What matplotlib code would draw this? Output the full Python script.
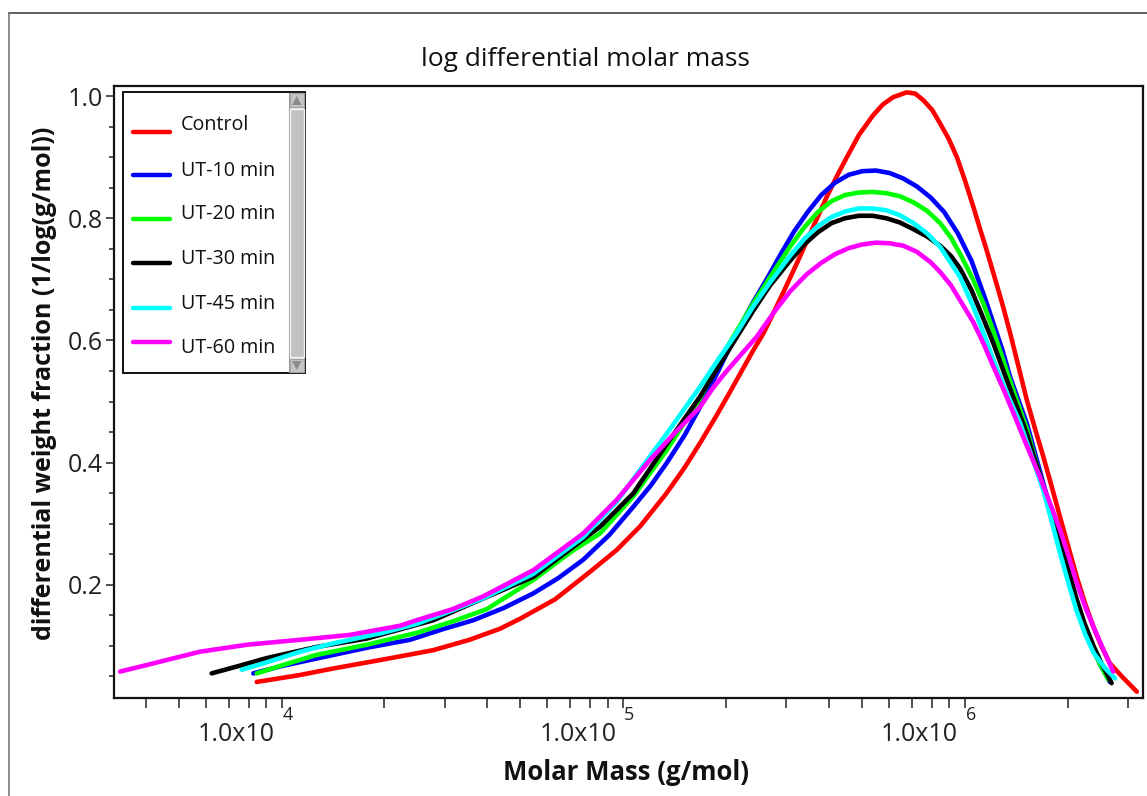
import matplotlib
matplotlib.use("Agg")
import matplotlib.pyplot as plt
from matplotlib.ticker import LogLocator, MultipleLocator, NullFormatter, FixedLocator, FormatStrFormatter
from matplotlib.patches import Rectangle, Polygon
from matplotlib.lines import Line2D
import matplotlib.transforms as mtransforms

W, H, DPI = 1147, 796, 100
plt.rcParams['font.family'] = ['Open Sans', 'DejaVu Sans']

series_names = ['Control', 'UT-10 min', 'UT-20 min', 'UT-30 min', 'UT-45 min', 'UT-60 min']
series_colors = ['#ff0000', '#0000ff', '#00ff00', '#000000', '#00ffff', '#ff00ff']

# log10(molar mass) and differential weight fraction
control_logM = [3.927, 4.05, 4.151, 4.30, 4.444, 4.55, 4.639, 4.70, 4.80, 4.90, 4.981, 5.05, 5.127,
                5.18, 5.225, 5.27, 5.31, 5.35, 5.38, 5.409, 5.44, 5.47, 5.50, 5.518, 5.55, 5.596, 5.625,
                5.654, 5.69, 5.731, 5.76, 5.79, 5.83, 5.855, 5.879, 5.905, 5.928, 5.953, 5.977, 6.00,
                6.025, 6.045, 6.064, 6.085, 6.11, 6.133, 6.158, 6.182, 6.206, 6.23, 6.255, 6.279, 6.304,
                6.328, 6.352, 6.377, 6.40, 6.425, 6.46, 6.504]
control_w = [0.041, 0.052, 0.063, 0.078, 0.093, 0.110, 0.128, 0.145, 0.176, 0.220, 0.257, 0.296, 0.350,
             0.392, 0.432, 0.474, 0.513, 0.553, 0.583, 0.610, 0.645, 0.680, 0.716, 0.738, 0.778, 0.835, 0.868,
             0.899, 0.936, 0.968, 0.986, 0.998, 1.006, 1.004, 0.993, 0.977, 0.955, 0.930, 0.900, 0.863,
             0.819, 0.782, 0.748, 0.708, 0.660, 0.612, 0.556, 0.502, 0.455, 0.410, 0.360, 0.311, 0.261,
             0.213, 0.170, 0.131, 0.100, 0.0715, 0.050, 0.025]

ut10_logM = [3.917, 4.00, 4.15, 4.25, 4.376, 4.47, 4.561, 4.65, 4.737, 4.81, 4.883, 4.96, 5.03, 5.08,
             5.127, 5.18, 5.225, 5.28, 5.332, 5.38, 5.42, 5.46, 5.50, 5.54, 5.58, 5.62, 5.66, 5.70, 5.74,
             5.78, 5.82, 5.86, 5.90, 5.94, 5.98, 6.02, 6.06, 6.084, 6.11, 6.133, 6.16, 6.182, 6.205, 6.23,
             6.255, 6.279, 6.305, 6.328, 6.35, 6.377, 6.40, 6.425]
ut10_w = [0.055, 0.067, 0.085, 0.097, 0.110, 0.127, 0.142, 0.162, 0.186, 0.211, 0.241, 0.282, 0.328, 0.362,
          0.399, 0.445, 0.491, 0.552, 0.612, 0.662, 0.700, 0.740, 0.778, 0.810, 0.838, 0.858, 0.871, 0.877, 0.878,
          0.874, 0.865, 0.852, 0.834, 0.810, 0.775, 0.730, 0.668, 0.628, 0.585, 0.540, 0.498, 0.464, 0.417, 0.366,
          0.317, 0.268, 0.215, 0.168, 0.130, 0.093, 0.066, 0.041]

ut20_logM = [3.927, 4.00, 4.10, 4.25, 4.40, 4.50, 4.60, 4.737, 4.85, 4.932, 5.03, 5.127, 5.225, 5.30,
             5.38, 5.44, 5.488, 5.53, 5.57, 5.61, 5.65, 5.69, 5.73, 5.77, 5.81, 5.85, 5.89, 5.928, 5.96,
             5.99, 6.025, 6.055, 6.084, 6.11, 6.13, 6.155, 6.182, 6.205, 6.23, 6.255, 6.279, 6.305, 6.328,
             6.352, 6.377, 6.40, 6.42]
ut20_w = [0.055, 0.068, 0.085, 0.102, 0.122, 0.140, 0.160, 0.208, 0.255, 0.284, 0.345, 0.420, 0.505, 0.585,
          0.660, 0.712, 0.753, 0.785, 0.810, 0.828, 0.838, 0.842, 0.843, 0.841, 0.836, 0.826, 0.812, 0.792,
          0.768, 0.738, 0.699, 0.660, 0.615, 0.572, 0.538, 0.498, 0.455, 0.408, 0.360, 0.312, 0.265, 0.212,
          0.168, 0.128, 0.092, 0.066, 0.045]

ut30_logM = [3.795, 3.88, 3.956, 4.10, 4.249, 4.444, 4.60, 4.737, 4.932, 5.03, 5.127, 5.225, 5.28, 5.332,
             5.38, 5.43, 5.488, 5.53, 5.57, 5.61, 5.65, 5.69, 5.73, 5.77, 5.81, 5.85, 5.89, 5.928, 5.96,
             5.986, 6.02, 6.05, 6.084, 6.12, 6.155, 6.182, 6.205, 6.23, 6.255, 6.279, 6.305, 6.328, 6.352,
             6.377, 6.40, 6.43]
ut30_w = [0.055, 0.068, 0.080, 0.098, 0.112, 0.142, 0.180, 0.213, 0.295, 0.350, 0.430, 0.508, 0.558, 0.605,
          0.648, 0.690, 0.730, 0.757, 0.777, 0.792, 0.800, 0.804, 0.804, 0.800, 0.793, 0.782, 0.770, 0.755,
          0.738, 0.718, 0.682, 0.642, 0.595, 0.540, 0.488, 0.447, 0.405, 0.362, 0.318, 0.273, 0.222, 0.176,
          0.135, 0.100, 0.072, 0.039]

ut45_logM = [3.883, 3.95, 4.054, 4.15, 4.30, 4.395, 4.50, 4.59, 4.737, 4.883, 4.981, 5.049, 5.127, 5.225,
             5.28, 5.332, 5.38, 5.43, 5.488, 5.53, 5.57, 5.61, 5.65, 5.69, 5.73, 5.77, 5.81, 5.85, 5.89,
             5.928, 5.96, 5.986, 6.025, 6.055, 6.084, 6.12, 6.162, 6.195, 6.23, 6.255, 6.279, 6.305, 6.328,
             6.352, 6.377, 6.41, 6.44]
ut45_w = [0.061, 0.072, 0.0905, 0.104, 0.122, 0.136, 0.158, 0.178, 0.218, 0.278, 0.336, 0.388, 0.447, 0.524,
          0.570, 0.612, 0.655, 0.695, 0.738, 0.766, 0.787, 0.802, 0.811, 0.816, 0.816, 0.813, 0.805, 0.792,
          0.775, 0.753, 0.726, 0.704, 0.655, 0.612, 0.568, 0.518, 0.465, 0.412, 0.355, 0.303, 0.252, 0.200,
          0.157, 0.120, 0.089, 0.064, 0.047]

ut60_logM = [3.527, 3.60, 3.70, 3.761, 3.90, 4.054, 4.20, 4.347, 4.395, 4.50, 4.59, 4.737, 4.883, 4.981,
             5.078, 5.15, 5.225, 5.26, 5.30, 5.35, 5.391, 5.44, 5.49, 5.537, 5.58, 5.62, 5.66, 5.70, 5.74,
             5.78, 5.82, 5.86, 5.90, 5.928, 5.96, 5.986, 6.025, 6.055, 6.084, 6.115, 6.142, 6.18, 6.22,
             6.25, 6.279, 6.305, 6.328, 6.352, 6.377, 6.405, 6.435]
ut60_w = [0.058, 0.068, 0.082, 0.0905, 0.102, 0.110, 0.118, 0.133, 0.142, 0.160, 0.181, 0.224, 0.284, 0.339,
          0.404, 0.448, 0.491, 0.520, 0.548, 0.580, 0.606, 0.645, 0.681, 0.708, 0.727, 0.741, 0.751, 0.757,
          0.760, 0.759, 0.755, 0.745, 0.728, 0.712, 0.690, 0.666, 0.630, 0.595, 0.557, 0.518, 0.482, 0.430,
          0.377, 0.333, 0.290, 0.245, 0.203, 0.165, 0.131, 0.095, 0.058]

series_logM = [control_logM, ut10_logM, ut20_logM, ut30_logM, ut45_logM, ut60_logM]
series_w = [control_w, ut10_w, ut20_w, ut30_w, ut45_w, ut60_w]

x_decades = [4, 5, 6]
y_major = [0.2, 0.4, 0.6, 0.8, 1.0]

fig = plt.figure(figsize=(W / DPI, H / DPI), dpi=DPI)


def fx(px):
    return px / W


def fy(py):
    return 1 - py / H


# outer frame
fig.add_artist(Line2D([fx(9), 1.0], [fy(13), fy(13)], color='#444444', lw=1.2))
fig.add_artist(Line2D([fx(9), fx(9)], [fy(13), 0.0], color='#777777', lw=1.2))

ax = fig.add_axes([fx(114), fy(698), fx(1143) - fx(114), fy(86) - fy(698)])

for lm, w, c in zip(series_logM, series_w, series_colors):
    ax.plot([10 ** v for v in lm], w, color=c, lw=3.3, solid_capstyle='round', solid_joinstyle='round')

ax.set_xscale('log')
ax.set_xlim(10 ** 3.509, 10 ** 6.522)
ax.set_ylim(0.0147, 1.0164)

ax.xaxis.set_major_locator(FixedLocator([10.0 ** e for e in x_decades]))
ax.xaxis.set_minor_locator(LogLocator(base=10, subs=[2, 3, 4, 5, 6, 7, 8, 9], numticks=20))
ax.xaxis.set_major_formatter(NullFormatter())
ax.xaxis.set_minor_formatter(NullFormatter())
ax.tick_params(axis='x', which='both', direction='out', length=7.2, width=1.1, color='#222222')

ax.yaxis.set_major_locator(FixedLocator(y_major))
ax.yaxis.set_minor_locator(MultipleLocator(0.05))
ax.yaxis.set_major_formatter(FormatStrFormatter('%.1f'))
ax.tick_params(axis='y', which='major', direction='out', length=6, width=1.1, color='#222222',
               labelsize=18, labelcolor='#222222', pad=2)
ax.tick_params(axis='y', which='minor', direction='out', length=3.6, width=1.1, color='#222222')

for s in ax.spines.values():
    s.set_linewidth(1.6)
    s.set_color('#111111')

# x tick labels "1.0x10" with superscript exponent
for e in x_decades:
    t1 = mtransforms.offset_copy(ax.get_xaxis_transform(), fig=fig, x=-7, y=-43, units='dots')
    ax.text(10.0 ** e, 0, '1.0x10', transform=t1, ha='right', va='baseline', fontsize=18, color='#222222')
    t2 = mtransforms.offset_copy(ax.get_xaxis_transform(), fig=fig, x=1, y=-22, units='dots')
    ax.text(10.0 ** e, 0, str(e), transform=t2, ha='left', va='baseline', fontsize=13, color='#222222')

fig.text(fx(585), fy(66), 'log differential molar mass', ha='center', va='baseline', fontsize=19, color='#111111')
fig.text(fx(626), fy(780), 'Molar Mass (g/mol)', ha='center', va='baseline', fontsize=18.5,
         fontweight='bold', color='#111111')
fig.text(fx(45), fy(383.5), 'differential weight fraction (1/log(g/mol))', ha='center', va='center',
         rotation=90, fontsize=18, fontweight='bold', color='#111111')


# legend box with scroll bar
def frect(x0, y0, x1, y1, **kw):
    fig.add_artist(Rectangle((fx(x0), fy(y1)), fx(x1) - fx(x0), fy(y0) - fy(y1), **kw))


frect(123.3, 91.7, 305, 373, facecolor='white', edgecolor='#111111', lw=1.4, zorder=5)
frect(289, 93, 304, 372, facecolor='#e6e6e6', edgecolor='#9a9a9a', lw=0.8, zorder=6)
frect(290, 93.5, 303.5, 107, facecolor='#c4c4c4', edgecolor='#a0a0a0', lw=0.8, zorder=7)
frect(290, 109, 303.5, 357, facecolor='#c2c2c2', edgecolor='#f2f2f2', lw=1.0, zorder=7)
frect(290, 359, 303.5, 372, facecolor='#c4c4c4', edgecolor='#a0a0a0', lw=0.8, zorder=7)
fig.add_artist(Polygon([(fx(292), fy(105)), (fx(301.5), fy(105)), (fx(296.75), fy(96))], closed=True,
                       facecolor='#8c8c8c', edgecolor='none', zorder=8))
fig.add_artist(Polygon([(fx(292), fy(361)), (fx(301.5), fy(361)), (fx(296.75), fy(370))], closed=True,
                       facecolor='#8c8c8c', edgecolor='none', zorder=8))

legend_line_y = [131.7, 175, 219.3, 263.3, 308.3, 341.7]
legend_text_y = [130, 175.7, 219, 264, 309, 353]
for name, c, ly, ty in zip(series_names, series_colors, legend_line_y, legend_text_y):
    fig.add_artist(Line2D([fx(133), fx(170)], [fy(ly), fy(ly)], color=c, lw=3.2,
                          solid_capstyle='round', zorder=9))
    fig.text(fx(180.7), fy(ty), name, ha='left', va='baseline', fontsize=14.2, color='#111111', zorder=9)

fig.savefig('out.png', dpi=DPI)
